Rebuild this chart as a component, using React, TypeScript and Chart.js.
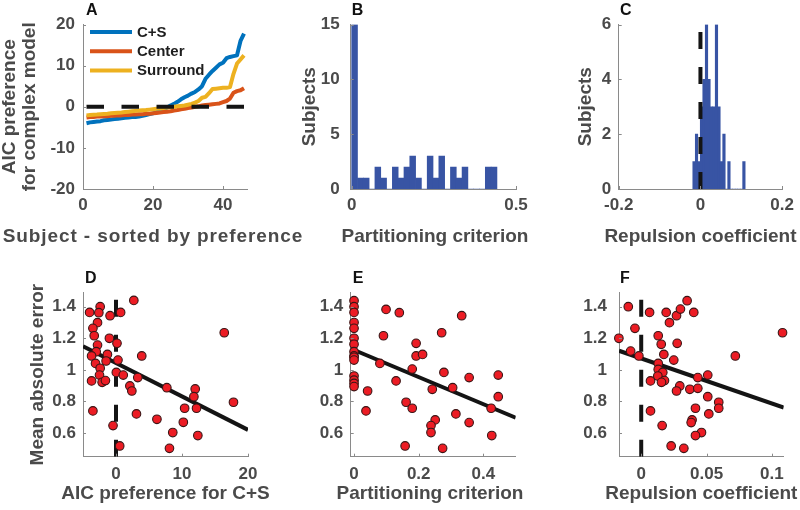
import React, { useEffect, useRef } from "react";
import { Chart, registerables } from "chart.js";

Chart.register(...registerables);

const FONT_FAMILY = '"Liberation Sans", Arial, Helvetica, sans-serif';
const AXIS_COLOR = "#8a8a8a";
const LABEL_COLOR = "#4a4a4a";
const BAR_COLOR = "rgb(56,84,164)";
const POINT_FILL = "rgb(236,28,36)";
const POINT_EDGE = "#3a1515";
const LINE_BLACK = "#141414";
const PAGE_W = 800;
const PAGE_H = 510;

// ---------------- Panel A: AIC preference, sorted ----------------
const subjectIndex = [
  1, 2, 3, 4, 5, 6, 7, 8, 9, 10, 11, 12, 13, 14, 15, 16, 17, 18, 19, 20, 21, 22, 23,
  24, 25, 26, 27, 28, 29, 30, 31, 32, 33, 34, 35, 36, 37, 38, 39, 40, 41, 42, 43, 44,
  45, 46,
];
const csPreference = [
  -4.0, -3.8, -3.7, -3.6, -3.5, -3.3, -3.2, -3.1, -3.0, -2.9, -2.8, -2.7, -2.6, -2.5,
  -2.5, -2.4, -2.2, -2.0, -1.8, -1.6, -1.3, -1.0, -0.6, -0.2, 0.3, 0.7, 1.2, 1.8, 2.3,
  2.7, 3.2, 3.6, 4.2, 5.0, 6.8, 7.8, 8.7, 9.5, 10.3, 10.7, 11.8, 12.1, 12.3, 12.5,
  16.0, 17.8,
];
const centerPreference = [
  -2.6, -2.5, -2.5, -2.4, -2.4, -2.3, -2.3, -2.2, -2.2, -2.1, -2.1, -2.0, -2.0, -1.9,
  -1.9, -1.8, -1.8, -1.7, -1.7, -1.6, -1.5, -1.4, -1.3, -1.2, -1.1, -0.9, -0.8, -0.6,
  -0.5, -0.3, -0.2, 0.0, 0.1, 0.3, 0.4, 0.5, 0.6, 0.7, 0.8, 1.1, 1.4, 2.0, 3.4, 3.8,
  4.0, 4.5,
];
const surroundPreference = [
  -2.1, -2.0, -1.95, -1.9, -1.8, -1.75, -1.7, -1.6, -1.5, -1.45, -1.4, -1.3, -1.2,
  -1.1, -1.0, -0.9, -0.85, -0.8, -0.7, -0.6, -0.5, -0.4, -0.3, -0.2, -0.1, 0.0, 0.1,
  0.2, 0.3, 0.5, 0.7, 1.0, 1.4, 2.2, 2.4, 3.3, 4.3, 4.4, 4.5, 4.6, 4.6, 4.8, 8.0,
  10.5, 11.5, 12.5,
];
const aZeroLineX = [1, 46];
const aXTicks = [0, 20, 40];
const aYTicks = [-20, -10, 0, 10, 20];

// ---------------- Panel B: partitioning criterion histogram ----------------
const partitionBinStart = 0;
const partitionBinWidth = 0.01768;
const partitionCounts = [15, 1, 1, 0, 2, 1, 0, 2, 1, 2, 3, 1, 0, 3, 1, 3, 0, 2, 1, 2, 0, 0, 0, 2, 2];
const bXTicks = [0, 0.5];
const bYTicks = [0, 5, 10, 15];

// ---------------- Panel C: repulsion coefficient histogram ----------------
const repulsionBinStart = -0.0187;
const repulsionBinWidth = 0.0061;
const repulsionCounts = [1, 2, 1, 3, 4, 6, 4, 3, 3, 6, 3, 1, 2, 0, 1, 0, 0, 0, 0, 0, 1];
const cXTicks = [-0.2, 0, 0.2];
const cYTicks = [0, 2, 4, 6];

// ---------------- Panels D-F: mean absolute error scatter ----------------
const dAicPreference = [
  2.7, -4.0, -2.4, -2.6, -0.9, 0.7, -2.8, -3.5, -3.3, -1.0, 0.15, -2.8, 16.4, -3.0,
  -3.7, -1.3, 3.9, -1.5, -3.1, 0.3, -2.4, 0.05, 1.1, -2.5, 3.3, -3.7, -2.1, -1.6, 2.1,
  2.4, 7.7, 12.0, 11.8, 17.8, 10.4, 12.2, -3.5, 3.1, 6.2, 10.2, -0.45, 8.6, 12.4, 0.56,
  8.1,
];
const dError = [
  1.44, 1.364, 1.40, 1.362, 1.343, 1.364, 1.299, 1.263, 1.216, 1.20, 1.168, 1.157,
  1.235, 1.115, 1.088, 1.098, 1.088, 1.056, 1.041, 1.062, 1.01, 0.984, 0.967, 0.967,
  0.951, 0.93, 0.921, 0.932, 0.898, 0.866, 0.887, 0.879, 0.83, 0.795, 0.757, 0.757,
  0.74, 0.721, 0.687, 0.668, 0.647, 0.603, 0.584, 0.518, 0.503,
];
const ePartition = [
  0, 0, 0, 0, 0, 0, 0, 0, 0, 0, 0, 0, 0, 0, 0, 0.099, 0.14, 0.333, 0.091, 0.271, 0.192,
  0.192, 0.212, 0.08, 0.18, 0.278, 0.356, 0.446, 0.13, 0.242, 0.305, 0.446, 0.042,
  0.161, 0.18, 0.424, 0.037, 0.315, 0.356, 0.251, 0.238, 0.238, 0.426, 0.158, 0.274,
];
const eError = [
  1.438, 1.4, 1.364, 1.3, 1.263, 1.2, 1.162, 1.115, 1.088, 1.08, 1.062, 0.961, 0.935,
  0.914, 0.894, 1.383, 1.362, 1.343, 1.216, 1.235, 1.168, 1.088, 1.098, 1.041, 1.005,
  0.984, 0.951, 0.967, 0.93, 0.877, 0.887, 0.83, 0.866, 0.795, 0.757, 0.757, 0.74,
  0.721, 0.666, 0.683, 0.647, 0.603, 0.584, 0.518, 0.503,
];
const fRepulsion = [
  -0.0099, 0.0064, 0.0191, 0.027, 0.03, 0.0351, 0.0402, 0.0216, -0.0048, -0.0171,
  0.013, 0.0153, 0.0275, 0.1081, -0.0081, -0.0018, 0.0173, 0.072, 0.0249, 0.013, 0.013,
  0.0165, 0.0127, 0.0178, 0.0071, 0.0155, 0.0433, 0.0509, 0.0295, 0.027, 0.0372,
  0.0433, 0.0509, 0.0593, 0.0593, 0.0415, 0.0071, 0.0517, 0.0389, 0.0382, 0.016,
  0.0461, 0.0415, 0.0229, 0.0326,
];
const fError = [
  1.4, 1.364, 1.364, 1.343, 1.385, 1.438, 1.364, 1.299, 1.263, 1.2, 1.216, 1.162, 1.168,
  1.235, 1.119, 1.088, 1.098, 1.088, 1.062, 1.041, 1.003, 0.984, 0.961, 0.932, 0.93,
  0.921, 0.951, 0.967, 0.898, 0.866, 0.877, 0.883, 0.83, 0.795, 0.757, 0.757, 0.74,
  0.721, 0.683, 0.666, 0.647, 0.603, 0.584, 0.518, 0.503,
];
const errorTicks = [0.6, 0.8, 1, 1.2, 1.4];
const errorRange = [0.45, 1.49];
const dXTicks = [0, 10, 20];
const eXTicks = [0, 0.2, 0.4];
const fXTicks = [0, 0.05, 0.1];
const dXRange = [-5, 20];
const eXRange = [-0.0103, 0.5];
const fXRange = [-0.017, 0.109];
// least-squares fits: [intercept, slope, xFrom, xTo]
const dFit = [1.044, -0.0212, -5, 20];
const eFit = [1.126, -0.858, 0, 0.5];
const fFit = [1.0724, -2.857, -0.017, 0.109];

// ---------------- helpers ----------------
type Area = { left: number; top: number; right: number; bottom: number };
type Titles = {
  x: { text: string; cx?: number; cy: number; spacing?: number };
  y?: { lines: string[]; cx: number; gap: number };
  letter: { text: string; x: number; y: number };
};

const fmt = (v: number) => String(v);

function axis(o: { min: number; max: number; values: number[]; tickPad: number; isY: boolean; size: number }) {
  return {
    type: "linear",
    min: o.min,
    max: o.max,
    offset: false,
    grid: { display: false, drawTicks: false },
    border: { display: true, color: AXIS_COLOR, width: 1 },
    ticks: {
      color: LABEL_COLOR,
      font: { family: FONT_FAMILY, size: 17, weight: "bold" },
      padding: o.tickPad,
      autoSkip: false,
      maxRotation: 0,
      minRotation: 0,
      callback: (_v: any, i: number) => fmt(o.values[i]),
    },
    afterBuildTicks: (s: any) => {
      s.ticks = o.values.map((value) => ({ value }));
    },
    afterFit: (s: any) => {
      if (o.isY) s.width = o.size;
      else s.height = o.size;
    },
    title: { display: false },
  };
}

const tickMarkPlugin = {
  id: "tickMarks",
  afterDraw(chart: any) {
    const { ctx, chartArea } = chart;
    const xs = chart.scales.x;
    const ys = chart.scales.y;
    ctx.save();
    ctx.strokeStyle = AXIS_COLOR;
    ctx.lineWidth = 1;
    ctx.beginPath();
    xs.ticks.forEach((t: any) => {
      const px = Math.round(xs.getPixelForValue(t.value)) + 0.5;
      ctx.moveTo(px, chartArea.bottom);
      ctx.lineTo(px, chartArea.bottom - 3);
    });
    ys.ticks.forEach((t: any) => {
      const py = Math.round(ys.getPixelForValue(t.value)) + 0.5;
      ctx.moveTo(chartArea.left, py);
      ctx.lineTo(chartArea.left + 3, py);
    });
    ctx.stroke();
    ctx.restore();
  },
};

function titlesPlugin(t: Titles) {
  return {
    id: "panelTitles",
    afterDraw(chart: any) {
      const { ctx, chartArea } = chart;
      ctx.save();
      ctx.fillStyle = LABEL_COLOR;
      ctx.font = `bold 19px ${FONT_FAMILY}`;
      ctx.textAlign = "center";
      ctx.textBaseline = "middle";
      const cx = t.x.cx ?? (chartArea.left + chartArea.right) / 2;
      if (t.x.spacing) (ctx as any).letterSpacing = `${t.x.spacing}px`;
      ctx.fillText(t.x.text, cx, t.x.cy);
      (ctx as any).letterSpacing = "0px";
      if (t.y) {
        const cy = (chartArea.top + chartArea.bottom) / 2;
        ctx.save();
        ctx.translate(t.y.cx, cy);
        ctx.rotate(-Math.PI / 2);
        t.y.lines.forEach((line, i) => ctx.fillText(line, 0, i * t.y!.gap));
        ctx.restore();
      }
      ctx.fillStyle = "#111";
      ctx.font = `bold 16px ${FONT_FAMILY}`;
      ctx.textAlign = "left";
      ctx.textBaseline = "alphabetic";
      ctx.fillText(t.letter.text, t.letter.x, t.letter.y);
      ctx.restore();
    },
  };
}

const innerLegendPlugin = {
  id: "innerLegend",
  afterDraw(chart: any) {
    const ctx = chart.ctx;
    const items = chart.data.datasets.filter((d: any) => !d.hideInLegend);
    ctx.save();
    ctx.font = `bold 15px ${FONT_FAMILY}`;
    ctx.textBaseline = "middle";
    ctx.textAlign = "left";
    items.forEach((ds: any, i: number) => {
      const y = 32 + i * 19.2;
      ctx.strokeStyle = ds.borderColor;
      ctx.lineWidth = 4;
      ctx.beginPath();
      ctx.moveTo(90, y);
      ctx.lineTo(132, y);
      ctx.stroke();
      ctx.fillStyle = "#1e1e1e";
      ctx.fillText(ds.label, 137, y + 0.5);
    });
    ctx.restore();
  },
};

function options(plot: Area, x: any, y: any) {
  return {
    responsive: false,
    animation: false,
    devicePixelRatio: 1,
    events: [],
    layout: { padding: { left: 0, top: plot.top, right: PAGE_W - plot.right, bottom: 0 } },
    plugins: { legend: { display: false }, tooltip: { enabled: false } },
    scales: {
      x: axis({ ...x, isY: false, size: PAGE_H - plot.bottom }),
      y: axis({ ...y, isY: true, size: plot.left }),
    },
  };
}

const pts = (xs: number[], ys: number[]) => xs.map((x, i) => ({ x, y: ys[i] }));
const fitLine = (f: number[]) => [f[2], f[3]].map((x) => ({ x, y: f[0] + f[1] * x }));

// ---------------- panel configs ----------------
function panelA() {
  const plot = { left: 83, top: 24.5, right: 247.5, bottom: 189 };
  return {
    type: "line",
    data: {
      datasets: [
        { label: "C+S", data: pts(subjectIndex, csPreference), borderColor: "#0072BD", order: 3 },
        { label: "Center", data: pts(subjectIndex, centerPreference), borderColor: "#D95319", order: 2 },
        { label: "Surround", data: pts(subjectIndex, surroundPreference), borderColor: "#EDB120", order: 1 },
        {
          label: "zero",
          hideInLegend: true,
          data: aZeroLineX.map((x) => ({ x, y: 0 })),
          borderColor: LINE_BLACK,
          borderDash: [17.5, 17.5],
          order: 0,
        },
      ].map((d) => ({ borderWidth: 4, pointRadius: 0, tension: 0, fill: false, borderJoinStyle: "round", ...d })),
    },
    options: options(plot, { min: 0, max: 47, values: aXTicks, tickPad: 6 }, { min: -20, max: 20, values: aYTicks, tickPad: 8 }),
    plugins: [
      tickMarkPlugin,
      innerLegendPlugin,
      titlesPlugin({
        x: { text: "Subject - sorted by preference", cx: 153, cy: 236.5, spacing: 0.9 },
        y: { lines: ["AIC preference", "for complex model"], cx: 10, gap: 20 },
        letter: { text: "A", x: 86, y: 15 },
      }),
    ],
  };
}

function panelB() {
  const plot = { left: 350.7, top: 24.5, right: 516, bottom: 189 };
  return {
    type: "bar",
    data: {
      datasets: [
        {
          data: partitionCounts.map((c, i) => ({ x: partitionBinStart + (i + 0.5) * partitionBinWidth, y: c })),
          backgroundColor: BAR_COLOR,
          borderWidth: 0,
          barPercentage: 1,
          categoryPercentage: 1,
        },
      ],
    },
    options: options(plot, { min: -0.003, max: 0.5, values: bXTicks, tickPad: 6 }, { min: 0, max: 15, values: bYTicks, tickPad: 11 }),
    plugins: [
      tickMarkPlugin,
      titlesPlugin({
        x: { text: "Partitioning criterion", cx: 435, cy: 236.5 },
        y: { lines: ["Subjects"], cx: 310, gap: 20 },
        letter: { text: "B", x: 351.7, y: 15 },
      }),
    ],
  };
}

function panelC() {
  const plot = { left: 618.7, top: 24.5, right: 782.7, bottom: 189 };
  return {
    type: "bar",
    data: {
      datasets: [
        {
          type: "line",
          data: [{ x: 0, y: 0 }, { x: 0, y: 6 }],
          borderColor: LINE_BLACK,
          borderWidth: 4,
          borderDash: [17, 18],
          pointRadius: 0,
          order: 0,
        },
        {
          data: repulsionCounts.map((c, i) => ({ x: repulsionBinStart + (i + 0.5) * repulsionBinWidth, y: c })),
          backgroundColor: BAR_COLOR,
          borderWidth: 0,
          barPercentage: 1,
          categoryPercentage: 1,
          order: 1,
        },
      ],
    },
    options: options(plot, { min: -0.2, max: 0.2, values: cXTicks, tickPad: 6 }, { min: 0, max: 6, values: cYTicks, tickPad: 7.5 }),
    plugins: [
      tickMarkPlugin,
      titlesPlugin({
        x: { text: "Repulsion coefficient", cy: 236.5 },
        y: { lines: ["Subjects"], cx: 585.5, gap: 20 },
        letter: { text: "C", x: 620, y: 15 },
      }),
    ],
  };
}

function scatterPanel(o: {
  plot: Area;
  xs: number[];
  ys: number[];
  fit: number[];
  xRange: number[];
  xTicks: number[];
  yTickPad: number;
  zeroLine: boolean;
  titles: Titles;
}) {
  const datasets: any[] = [
    {
      data: pts(o.xs, o.ys),
      backgroundColor: POINT_FILL,
      borderColor: POINT_EDGE,
      borderWidth: 1.1,
      pointRadius: 4.3,
      showLine: false,
      clip: false,
      order: 0,
    },
    {
      type: "line",
      data: fitLine(o.fit),
      borderColor: LINE_BLACK,
      borderWidth: 4,
      pointRadius: 0,
      order: 1,
    },
  ];
  if (o.zeroLine) {
    datasets.push({
      type: "line",
      data: errorRange.map((y) => ({ x: 0, y })),
      borderColor: LINE_BLACK,
      borderWidth: 4,
      borderDash: [17, 18],
      pointRadius: 0,
      order: 2,
    });
  }
  return {
    type: "scatter",
    data: { datasets },
    options: options(
      o.plot,
      { min: o.xRange[0], max: o.xRange[1], values: o.xTicks, tickPad: 7 },
      { min: errorRange[0], max: errorRange[1], values: errorTicks, tickPad: o.yTickPad }
    ),
    plugins: [tickMarkPlugin, titlesPlugin(o.titles)],
  };
}

const builders: Array<() => any> = [
  panelA,
  panelB,
  panelC,
  () =>
    scatterPanel({
      plot: { left: 83, top: 292.5, right: 248, bottom: 456.7 },
      xs: dAicPreference,
      ys: dError,
      fit: dFit,
      xRange: dXRange,
      xTicks: dXTicks,
      yTickPad: 7,
      zeroLine: true,
      titles: {
        x: { text: "AIC preference for C+S", cy: 493.5 },
        y: { lines: ["Mean absolute error"], cx: 37.5, gap: 20 },
        letter: { text: "D", x: 85, y: 283.3 },
      },
    }),
  () =>
    scatterPanel({
      plot: { left: 350.7, top: 292.5, right: 515.7, bottom: 456.7 },
      xs: ePartition,
      ys: eError,
      fit: eFit,
      xRange: eXRange,
      xTicks: eXTicks,
      yTickPad: 7.4,
      zeroLine: false,
      titles: {
        x: { text: "Partitioning criterion", cx: 430, cy: 493.5 },
        letter: { text: "E", x: 352.7, y: 283.3 },
      },
    }),
  () =>
    scatterPanel({
      plot: { left: 619, top: 292.5, right: 783.7, bottom: 456.7 },
      xs: fRepulsion,
      ys: fError,
      fit: fFit,
      xRange: fXRange,
      xTicks: fXTicks,
      yTickPad: 12,
      zeroLine: true,
      titles: {
        x: { text: "Repulsion coefficient", cy: 493.5 },
        letter: { text: "F", x: 620, y: 283.3 },
      },
    }),
];

function Panel({ build }: { build: () => any }) {
  const ref = useRef<HTMLCanvasElement | null>(null);
  useEffect(() => {
    if (!ref.current) return;
    const chart = new Chart(ref.current, build());
    return () => chart.destroy();
  }, [build]);
  return (
    <canvas
      ref={ref}
      width={PAGE_W}
      height={PAGE_H}
      style={{ position: "absolute", left: 0, top: 0, width: PAGE_W, height: PAGE_H }}
    />
  );
}

export default function App() {
  return (
    <div style={{ position: "fixed", left: 0, top: 0, width: PAGE_W, height: PAGE_H, background: "#fff" }}>
      {builders.map((b, i) => (
        <Panel key={i} build={b} />
      ))}
    </div>
  );
}
